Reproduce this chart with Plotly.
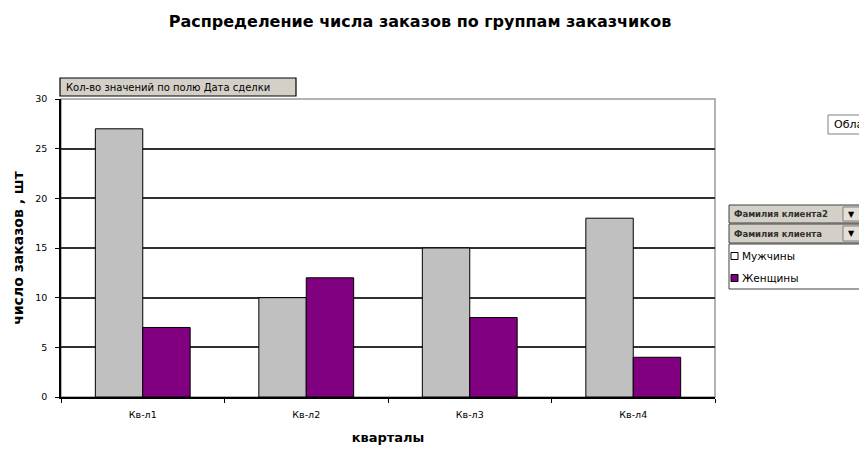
import plotly.graph_objects as go

quarters = ["Кв-л1", "Кв-л2", "Кв-л3", "Кв-л4"]
series_names = ["Мужчины", "Женщины"]
men = [27, 10, 15, 18]
women = [7, 12, 8, 4]
y_ticks = [0, 5, 10, 15, 20, 25, 30]
colors = ["#C0C0C0", "#800080"]

FONT = "DejaVu Sans, Liberation Sans, Arial, sans-serif"
OFF = 8                      # page body margin offset
WIN_W, WIN_H = 867, 455
W, H = WIN_W - OFF, WIN_H - OFF
L, R, T, B = 61, 715, 99, 397   # plot area in window pixels

def px(x):
    return (x - L) / (R - L)

def py(y):
    return (B - y) / (B - T)

fig = go.Figure()
for name, vals, col in zip(series_names, [men, women], colors):
    fig.add_trace(go.Bar(x=quarters, y=vals, name=name, showlegend=False,
                         marker=dict(color=col, line=dict(color="#000000", width=1))))

shapes = []
annotations = []

# plot-area frame (gray)
shapes.append(dict(type="rect", xref="paper", yref="paper", x0=0, x1=1, y0=0, y1=1,
                   line=dict(color="#9a9a9a", width=1.5), layer="below"))

# field button "Кол-во значений по полю Дата сделки"
shapes.append(dict(type="rect", xref="paper", yref="paper",
                   x0=px(60), x1=px(296), y0=py(96), y1=py(78),
                   fillcolor="#D4D0C8", line=dict(color="#000000", width=1.2)))
annotations.append(dict(xref="paper", yref="paper", x=px(64), y=py(87), xanchor="left", yanchor="middle",
                        text="Кол-во значений по полю Дата сделки", showarrow=False,
                        font=dict(family=FONT, size=10, color="#000000")))

# "Обла..." box at right (cut by window edge)
shapes.append(dict(type="rect", xref="paper", yref="paper",
                   x0=px(828), x1=px(880), y0=py(134), y1=py(115),
                   fillcolor="#FFFFFF", line=dict(color="#808080", width=1)))
annotations.append(dict(xref="paper", yref="paper", x=px(832), y=py(124.5), xanchor="left", yanchor="middle",
                        text="Обла", showarrow=False,
                        font=dict(family=FONT, size=11, color="#000000")))

# dropdown field buttons
for (y0, y1, label) in [(205, 223, "Фамилия клиента2"), (224, 243, "Фамилия клиента")]:
    shapes.append(dict(type="rect", xref="paper", yref="paper",
                       x0=px(729), x1=px(862), y0=py(y1), y1=py(y0),
                       fillcolor="#D4D0C8", line=dict(color="#404040", width=1)))
    shapes.append(dict(type="rect", xref="paper", yref="paper",
                       x0=px(843), x1=px(860), y0=py(y1 - 2), y1=py(y0 + 2),
                       fillcolor="#E4E0D8", line=dict(color="#808080", width=1)))
    annotations.append(dict(xref="paper", yref="paper", x=px(732), y=py((y0 + y1) / 2),
                            xanchor="left", yanchor="middle", text="<b>" + label + "</b>",
                            showarrow=False, font=dict(family=FONT, size=8.5, color="#303030")))
    annotations.append(dict(xref="paper", yref="paper", x=px(851.5), y=py((y0 + y1) / 2),
                            xanchor="center", yanchor="middle", text="▼",
                            showarrow=False, font=dict(family=FONT, size=8, color="#000000")))

# legend box (drawn manually to match the pivot-chart legend)
shapes.append(dict(type="rect", xref="paper", yref="paper",
                   x0=px(729), x1=px(862), y0=py(289), y1=py(244),
                   fillcolor="#FFFFFF", line=dict(color="#404040", width=1)))
for i, (name, col) in enumerate(zip(series_names, colors)):
    yc = 256 + i * 22
    shapes.append(dict(type="rect", xref="paper", yref="paper",
                       x0=px(731), x1=px(738), y0=py(yc + 3.5), y1=py(yc - 3.5),
                       fillcolor="#FFFFFF" if i == 0 else col, line=dict(color="#000000", width=1)))
    annotations.append(dict(xref="paper", yref="paper", x=px(740), y=py(yc),
                            xanchor="left", yanchor="middle", text=name, showarrow=False,
                            font=dict(family=FONT, size=10.5, color="#000000")))

fig.update_layout(
    width=W, height=H,
    margin=dict(l=L - OFF, r=WIN_W - R, t=T - OFF, b=WIN_H - B, autoexpand=False),
    paper_bgcolor="#FFFFFF", plot_bgcolor="#FFFFFF",
    barmode="group", bargap=0.42, bargroupgap=0,
    title=dict(text="<b>Распределение числа заказов по группам заказчиков</b>",
               x=(420 - OFF) / W, xanchor="center", y=1 - (21 - OFF) / H, yanchor="middle",
               font=dict(family=FONT, size=16, color="#000000")),
    font=dict(family=FONT, size=9, color="#000000"),
    showlegend=False,
    shapes=shapes, annotations=annotations,
)

fig.update_xaxes(
    showline=True, linecolor="#000000", linewidth=1.5,
    ticks="outside", tickson="boundaries", ticklen=4, tickcolor="#000000",
    showgrid=False, ticklabelstandoff=8,
    tickfont=dict(family=FONT, size=9.5, color="#000000"),
    title=dict(text="<b>кварталы</b>", font=dict(family=FONT, size=13, color="#000000"), standoff=14),
)
fig.update_yaxes(
    range=[0, 30], tickvals=y_ticks,
    showline=True, linecolor="#000000", linewidth=1.5,
    ticks="outside", ticklen=4, tickcolor="#000000",
    showgrid=True, gridcolor="#303030", gridwidth=1.5,
    zeroline=False, ticklabelstandoff=6,
    tickfont=dict(family=FONT, size=9.5, color="#000000"),
    title=dict(text="<b>число заказов , шт</b>", font=dict(family=FONT, size=14, color="#000000"), standoff=8),
)

fig.write_html("out.html")
